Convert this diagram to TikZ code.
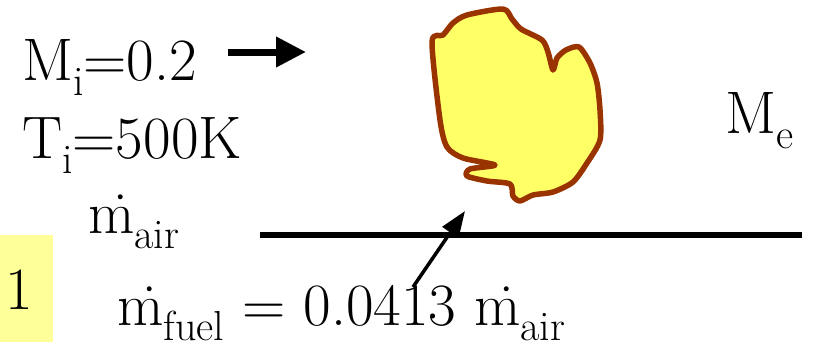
\documentclass[tikz,border=0pt]{standalone}
\usepackage{fontspec}
\usetikzlibrary{arrows.meta}
\definecolor{blobfill}{HTML}{FFFF66}
\definecolor{blobedge}{HTML}{993300}
\definecolor{tagfill}{HTML}{FFFF99}
\newcommand{\lowsub}[1]{\raisebox{-0.25em}{\fontsize{42}{42}\selectfont #1}}
\newcommand{\mdot}{\.{m}}
\begin{document}
\begin{tikzpicture}[
    x=1pt, y=-1pt,
    lbl/.style={inner sep=0pt, anchor=base west, font=\rmfamily\fontsize{60}{62}\selectfont},
    flow/.style={line width=7pt, -{Triangle[length=30pt, width=29pt]}},
    fuel/.style={line width=3.5pt, -{Triangle[length=26pt, width=19pt]}}
    ]
    \useasboundingbox (0,0) rectangle (814,349);

    % Inlet conditions
    \node[lbl] (Mi) at (22,80) {M\lowsub{i}=0.2};
    \node[lbl] (Ti) at (22,158) {T\lowsub{i}=500K};
    \coordinate (flowtail) at (228,52);
    \coordinate (flowtip) at (306,52);
    \draw[flow] (flowtail) -- (flowtip);

    % Exit Mach number
    \node[lbl] (Me) at (725,133) {M\lowsub{e}};

    % Air mass flow and wall
    \node[lbl] (mair) at (88,233) {\mdot\lowsub{air}};
    \coordinate (wallL) at (260,235);
    \coordinate (wallR) at (802,235);
    \draw[line width=6pt] (wallL) -- (wallR);

    % Station tag
    \node[fill=tagfill, minimum width=53pt, minimum height=107pt, inner sep=0pt,
          anchor=north west] (tag) at (0,235) {};
    \node[lbl] (one) at (5,309) {1};

    % Fuel injection
    \node[lbl] (mfuel) at (117,325) {\mdot\lowsub{fuel} = 0.0413 \mdot\lowsub{air}};
    \coordinate (fuelfoot) at (413,287);
    \coordinate (fueltip) at (465,211);
    \draw[fuel] (fuelfoot) -- (fueltip);

    % Flame
    \draw[line width=5.5pt, draw=blobedge, fill=blobfill, line join=round]
        plot[smooth cycle, tension=0.45] coordinates {
        (432,42) (443,35) (453,23) (467,15) (503,9) (512,19) (521,29)
        (542,40) (548,52) (553,70) (557,58) (566,50) (579,47) (590,63)
        (597,83) (600,110) (600,140) (587,163) (573,182) (553,192)
        (533,195) (520,201) (513,196) (510,184) (487,181) (467,176)
        (470,169) (495,165) (463,158) (447,147) (440,120)};
\end{tikzpicture}
\end{document}
